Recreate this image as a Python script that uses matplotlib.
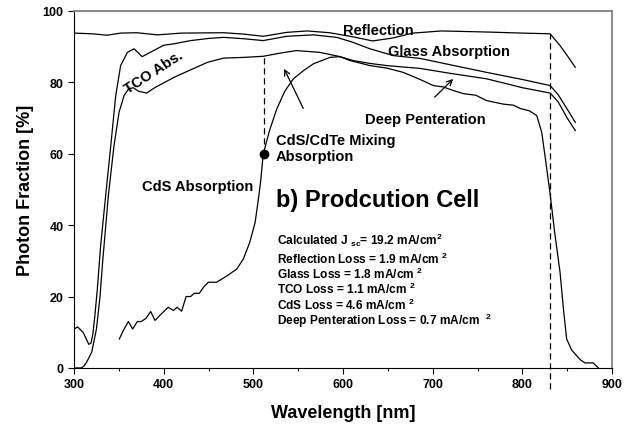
import numpy as np
import matplotlib
matplotlib.use("Agg")
import matplotlib.pyplot as plt

plt.rcParams["font.family"] = ["Liberation Sans", "DejaVu Sans"]
plt.rcParams["font.weight"] = "bold"
plt.rcParams["mathtext.fontset"] = "custom"
plt.rcParams["mathtext.rm"] = "Liberation Sans:bold"
plt.rcParams["mathtext.bf"] = "Liberation Sans:bold"

# reflection boundary (top curve)
refl_x = [300, 320, 337, 352, 370, 393, 420, 467, 490, 511, 537, 560, 585,
          610, 633, 655, 678, 710, 760, 800, 831, 842, 850, 859]
refl_y = [93.8, 93.6, 93.2, 93.8, 93.9, 93.3, 93.8, 93.9, 93.5, 92.9, 94.0,
          94.4, 93.9, 92.8, 91.6, 92.4, 93.8, 94.4, 94.1, 93.8, 93.6, 90.3,
          87.5, 84.2]

# after glass absorption
glass_x = [300, 304, 310, 316.5, 319, 321, 323, 326, 329.7, 335.3, 341, 346.5,
           352, 359.5, 367, 376, 385, 400, 411.5, 430, 450, 467, 490, 511, 537,
           567, 593, 610, 630, 656, 686, 720, 760, 800, 831, 840, 850, 859]
glass_y = [10.9, 11.5, 10.0, 6.6, 7.0, 9.5, 14.0, 22.1, 34.3, 48.3, 62.3, 76.3,
           84.7, 88.4, 89.4, 87.2, 88.4, 90.4, 90.8, 91.7, 92.3, 92.6, 92.2,
           91.7, 92.9, 93.3, 92.6, 91.3, 89.4, 87.5, 86.7, 84.9, 82.8, 80.8,
           79.1, 76.5, 72.5, 68.8]

# after TCO absorption
tco_x = [300, 308, 311, 314, 319.7, 325, 329, 332, 338.3, 344.6, 350.2, 355.8,
         361, 366, 372, 381, 390, 411.5, 430, 448.7, 467, 490, 511, 530, 548,
         574, 595, 611.5, 630, 648.7, 686, 720, 760, 800, 831, 840, 850, 859]
tco_y = [0.0, 0.0, 0.5, 1.6, 4.4, 10.9, 20.0, 30.0, 48.3, 62.3, 71.6, 76.3,
         78.2, 78.5, 77.5, 77.0, 78.5, 81.4, 83.5, 85.6, 86.8, 87.0, 87.3, 88.2,
         88.9, 88.4, 87.3, 86.1, 85.3, 84.7, 83.9, 82.5, 81.0, 78.5, 77.0, 74.5,
         70.0, 66.5]

# after CdS absorption
cds_x = [350.5, 355, 360.6, 365.4, 370.6, 375, 380.3, 385.5, 390.3, 396, 405,
         410.7, 415, 420, 425, 430, 434, 439.7, 445, 449.8, 459, 470, 481.5,
         488.8, 496, 502, 505.6, 508, 511, 518, 526, 535, 544.6, 556, 567,
         585.5, 596.6, 607.8, 630, 648.7, 667, 686, 700.7, 712, 723, 735, 748,
         760, 778.8, 790, 797.4, 808, 816, 821.6, 826, 830.8, 836, 842, 846,
         849.4, 855, 860.6, 865, 869.9, 879, 884.7]
cds_y = [8.1, 10.5, 13.0, 10.9, 13.0, 13.0, 13.9, 15.8, 13.3, 14.8, 17.0, 16.1,
         17.0, 15.9, 20.0, 20.0, 20.9, 20.9, 22.8, 24.0, 24.0, 25.7, 27.7, 30.5,
         35.2, 40.8, 47.3, 52.0, 59.9, 66.5, 72.5, 77.5, 81.0, 83.3, 85.2, 87.0,
         87.2, 86.1, 84.7, 84.0, 82.8, 80.8, 79.1, 78.7, 77.7, 76.8, 76.4, 74.9,
         73.9, 73.6, 72.7, 72.0, 70.7, 66.0, 58.0, 49.0, 38.0, 26.8, 16.0, 8.1,
         5.0, 3.4, 2.2, 1.4, 1.4, 0.0]

mixing_point = (512, 60)
mixing_top = 87.2
cutoff_x = 831
cutoff_top = 93.6

summary_lines = [
    r"Calculated J $_{\mathbf{sc}}$= 19.2 mA/cm$^{\mathbf{2}}$",
    r"Reflection Loss = 1.9 mA/cm $^{\mathbf{2}}$",
    r"Glass Loss = 1.8 mA/cm $^{\mathbf{2}}$",
    r"TCO Loss = 1.1 mA/cm $^{\mathbf{2}}$",
    r"CdS Loss = 4.6 mA/cm $^{\mathbf{2}}$",
    r"Deep Penteration Loss = 0.7 mA/cm  $^{\mathbf{2}}$",
]
summary_y = [36.1, 30.8, 26.6, 22.3, 17.9, 13.4]


def main():
    fig = plt.figure(figsize=(6.3, 4.27), dpi=100)
    ax = fig.add_axes([0.1175, 0.136, 0.854, 0.836])

    for xs, ys in [(refl_x, refl_y), (glass_x, glass_y), (tco_x, tco_y), (cds_x, cds_y)]:
        ax.plot(xs, ys, color="black", lw=0.9)

    ax.plot([mixing_point[0], mixing_point[0]], [mixing_point[1], mixing_top],
            color="black", lw=0.9, ls=(0, (5, 3)))
    ax.plot([cutoff_x, cutoff_x], [-6, cutoff_top], color="black", lw=0.9,
            ls=(0, (5, 3)), clip_on=False)
    ax.plot(*mixing_point, "o", color="black", markersize=6)

    ax.annotate("", xy=(533, 84.5), xytext=(557, 72),
                arrowprops=dict(arrowstyle="->", lw=0.9, color="black"))
    ax.annotate("", xy=(725, 81.5), xytext=(700, 75.3),
                arrowprops=dict(arrowstyle="->", lw=0.9, color="black"))

    ax.text(600, 94.7, "Reflection", fontsize=10.5, va="center")
    ax.text(650, 88.9, "Glass Absorption", fontsize=10.5, va="center")
    ax.text(625, 69.8, "Deep Penteration", fontsize=10.5, va="center")
    ax.text(389, 83.1, "TCO Abs.", fontsize=10.5, rotation=33, ha="center", va="center")
    ax.text(525, 61.6, "CdS/CdTe Mixing\nAbsorption", fontsize=10.5, va="center",
            linespacing=1.1)
    ax.text(375.5, 51.1, "CdS Absorption", fontsize=10.5, va="center")
    ax.text(525, 47.1, "b) Prodcution Cell", fontsize=17, va="center")
    for s, y in zip(summary_lines, summary_y):
        ax.text(526, y, s, fontsize=8.6, va="center")

    ax.set_xlim(300, 900)
    ax.set_ylim(0, 100)
    ax.set_xticks(np.arange(300, 901, 100))
    ax.set_xticks(np.arange(350, 900, 100), minor=True)
    ax.set_yticks(np.arange(0, 101, 20))
    ax.tick_params(axis="both", direction="out", length=4, width=0.8, labelsize=9)
    ax.tick_params(axis="x", which="minor", direction="out", length=2.5, width=0.8)
    ax.tick_params(axis="y", which="both", right=False)
    ax.tick_params(axis="x", which="both", top=False)
    for lab in ax.get_xticklabels() + ax.get_yticklabels():
        lab.set_fontweight("bold")

    ax.spines["left"].set_linewidth(0.8)
    ax.spines["bottom"].set_linewidth(0.8)
    for side in ["top", "right"]:
        ax.spines[side].set_color("#808080")
        ax.spines[side].set_linewidth(1.3)

    ax.set_xlabel("Wavelength [nm]", fontsize=13, fontweight="bold", labelpad=10)
    ax.set_ylabel("Photon Fraction [%]", fontsize=13, fontweight="bold", labelpad=6)

    fig.savefig("out.png", dpi=100)


if __name__ == "__main__":
    main()
